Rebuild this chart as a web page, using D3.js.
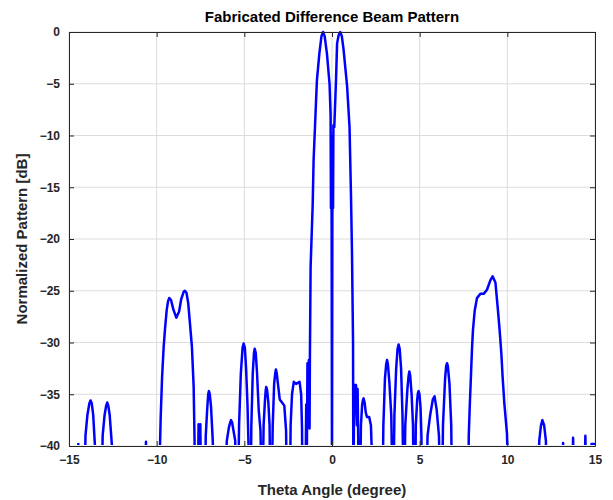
<!DOCTYPE html>
<html>
<head>
<meta charset="utf-8">
<script src="https://cdn.jsdelivr.net/npm/d3@7/dist/d3.min.js"></script>
<style>
  body { margin: 0; background: #fff; }
  text { font-family: "Liberation Sans", Arial, sans-serif; }
</style>
</head>
<body>
<div id="chart"></div>
<script>
const svgWidth = 613
const svgHeight = 500

const margin = { top: 32, right: 18, bottom: 54, left: 69 }
const chartWidth = svgWidth - margin.left - margin.right
const chartHeight = svgHeight - margin.top - margin.bottom

const xTicks = [-15, -10, -5, 0, 5, 10, 15]
const yTicks = [0, -5, -10, -15, -20, -25, -30, -35, -40]

// angle (degree), values below -40 are outside the axes
const theta = [
  -15.0, -14.52, -14.47, -14.42,
  -14.12, -14.06, -13.95, -13.84, -13.77, -13.7, -13.62, -13.52, -13.48,
  -13.14, -13.08, -12.97, -12.88, -12.82, -12.76, -12.68, -12.55, -12.5,
  -10.66, -10.61, -10.55,
  -9.85, -9.81, -9.77, -9.69, -9.6, -9.52, -9.43, -9.35, -9.28, -9.18, -9.05, -8.88, -8.72, -8.6, -8.46, -8.39, -8.3, -8.2, -8.12, -7.99, -7.89, -7.84, -7.8,
  -7.66, -7.61, -7.56, -7.51, -7.46,
  -7.25, -7.2, -7.12, -7.06, -7.02, -6.97, -6.9, -6.8, -6.76,
  -6.1, -6.0, -5.88, -5.8, -5.76, -5.7, -5.62, -5.52, -5.48,
  -5.36, -5.3, -5.2, -5.1, -5.04, -4.97, -4.9, -4.82, -4.76, -4.72,
  -4.64, -4.6, -4.52, -4.45, -4.41, -4.35, -4.28, -4.18, -4.08, -4.0,
  -3.96, -3.9, -3.82, -3.78, -3.75, -3.7, -3.63, -3.56, -3.52,
  -3.44, -3.38, -3.3, -3.24, -3.2, -3.15, -3.07, -2.98, -2.85, -2.72, -2.62, -2.57,
  -2.4, -2.36, -2.28, -2.18, -2.05, -1.95, -1.85, -1.76, -1.71, -1.68,
  -1.52, -1.47, -1.43, -1.4, -1.36, -1.32, -1.28, -1.26,
  -1.22, -1.1, -1.05, -0.97, -0.86, -0.72, -0.6, -0.51, -0.42, -0.29, -0.14,
  -0.08, -0.06, -0.04, -0.02, 0, 0.02, 0.04, 0.06, 0.08,
  0.13, 0.23, 0.29, 0.38, 0.47, 0.56, 0.66, 0.86, 1.0, 1.08, 1.14, 1.18, 1.2, 1.22,
  1.25, 1.29, 1.33, 1.37, 1.42, 1.46, 1.5, 1.53,
  1.6, 1.65, 1.72, 1.76, 1.8, 1.86, 1.93, 2.0, 2.12, 2.22, 2.26, 2.28,
  2.88, 2.93, 3.02, 3.09, 3.14, 3.19, 3.27, 3.38, 3.46,
  3.5, 3.56, 3.66, 3.74, 3.8, 3.86, 3.94, 4.02, 4.08,
  4.12, 4.18, 4.3, 4.37, 4.41, 4.46, 4.54, 4.62, 4.66,
  4.74, 4.78, 4.86, 4.9, 4.94, 4.99, 5.05, 5.1, 5.13,
  5.38, 5.45, 5.6, 5.75, 5.85, 5.97, 6.1, 6.18,
  6.28, 6.33, 6.45, 6.51, 6.56, 6.61, 6.7, 6.8, 6.85,
  7.78, 7.8, 7.86, 7.93, 7.99, 8.04, 8.14, 8.27, 8.46, 8.65, 8.84, 9.03, 9.16, 9.32, 9.45, 9.56, 9.66, 9.73, 9.83, 9.98, 10.07,
  11.78, 11.82, 11.92, 12.0, 12.1, 12.2, 12.24,
  13.14, 13.18, 13.22,
  13.68, 13.75, 13.82,
  14.38, 14.45, 14.52,
  14.75, 14.8, 15.0
]

const patternDb = [
  -45, -45, -39.8, -45,
  -45, -39, -37, -35.9, -35.6, -35.9, -37, -40, -45,
  -45, -39, -37, -36.1, -35.8, -36.1, -37, -40, -45,
  -45, -39.6, -45,
  -45, -40, -37.2, -33.3, -30.4, -28.6, -26.9, -26.0, -25.7, -25.9, -26.8, -27.6, -27.0, -25.8, -25.1, -25.0, -25.2, -26.2, -27.8, -30.4, -34.3, -39.4, -45,
  -45, -37.9, -45, -37.9, -45,
  -45, -39, -36.5, -35.0, -34.7, -35.0, -36.2, -39.5, -45,
  -45, -39.5, -38.2, -37.7, -37.5, -37.7, -38.5, -39.5, -45,
  -45, -38, -33, -30.5, -30.1, -30.5, -32.5, -36, -40, -45,
  -45, -38, -33, -31.0, -30.6, -31.0, -32.8, -36.5, -38.5, -45,
  -45, -38, -35.5, -34.6, -34.3, -34.6, -35.8, -38, -45,
  -45, -38, -34, -33.0, -32.6, -33.0, -34.2, -35.5, -35.8, -36.1, -38.5, -45,
  -45, -38, -35, -33.8, -34, -33.9, -33.8, -35, -38.3, -45,
  -45, -36, -40, -32, -34, -31.7, -38.3, -31.4,
  -22.7, -16.6, -12.4, -9.15, -4.64, -2.06, -0.4, 0, -0.4, -2.06, -5.0,
  -8, -17, -10, -19, -45, -18, -11, -17, -9,
  -9.2, -4.6, -1.1, -0.3, 0, -0.4, -1.7, -5.2, -9.2, -15.5, -21.3, -27.1, -30.0, -45,
  -38, -34.1, -34.2, -34.1, -38, -34.5, -40, -45,
  -45, -38, -36, -35.6, -35.4, -35.8, -36.8, -37.2, -37.2, -38, -40, -45,
  -45, -38, -33.5, -32.1, -31.7, -32.1, -33.8, -37, -45,
  -45, -37, -32.5, -30.6, -30.2, -30.6, -32.5, -37, -45,
  -45, -38, -34.5, -33.2, -32.8, -33.2, -35.0, -38, -45,
  -45, -38, -35.5, -34.9, -34.7, -35.0, -36.3, -39, -45,
  -45, -39, -37, -35.5, -35.2, -36.5, -39, -45,
  -45, -38, -33.5, -32.3, -32.0, -32.3, -34.0, -38, -45,
  -45, -39, -36, -33, -30.4, -28.8, -26.9, -25.7, -25.3, -25.3, -24.9, -24.0, -23.6, -24.2, -26.6, -28.8, -31.1, -33.3, -35.9, -38.8, -45,
  -45, -39.5, -38, -37.5, -38, -39.5, -45,
  -45, -39.7, -45,
  -45, -39.2, -45,
  -45, -39.0, -45,
  -45, -39.8, -39.8
]

const data = theta.map((t, i) => ({ t: t, db: patternDb[i] }))

const svg = d3.select("#chart").append("svg")
    .attr("width", svgWidth)
    .attr("height", svgHeight)

svg.append("rect")
    .attr("width", svgWidth)
    .attr("height", svgHeight)
    .attr("fill", "#ffffff")

const chartG = svg.append("g")
    .attr("transform", `translate(${margin.left}, ${margin.top})`)

const x = d3.scaleLinear()
    .domain([-15, 15])
    .range([0, chartWidth])

const y = d3.scaleLinear()
    .domain([-40, 0])
    .range([chartHeight, 0])

// grid
chartG.append("g")
    .selectAll("line")
    .data(xTicks)
    .enter()
    .append("line")
    .attr("x1", d => x(d))
    .attr("x2", d => x(d))
    .attr("y1", 0)
    .attr("y2", chartHeight)
    .attr("stroke", "#dcdcdc")
    .attr("stroke-width", 1)

chartG.append("g")
    .selectAll("line")
    .data(yTicks)
    .enter()
    .append("line")
    .attr("x1", 0)
    .attr("x2", chartWidth)
    .attr("y1", d => y(d))
    .attr("y2", d => y(d))
    .attr("stroke", "#dcdcdc")
    .attr("stroke-width", 1)

svg.append("clipPath")
    .attr("id", "plotClip")
    .append("rect")
    .attr("x", 0)
    .attr("y", -2)
    .attr("width", chartWidth)
    .attr("height", chartHeight + 1)

const line = d3.line()
    .x(d => x(d.t))
    .y(d => y(d.db))

chartG.append("path")
    .datum(data)
    .attr("clip-path", "url(#plotClip)")
    .attr("d", line)
    .attr("fill", "none")
    .attr("stroke", "#0000ff")
    .attr("stroke-width", 2.5)
    .attr("stroke-linejoin", "round")

// axes, MATLAB style box with inward ticks
const xAxis = d3.axisBottom(x).tickValues(xTicks).tickSizeInner(-5).tickSizeOuter(0).tickPadding(9)
const yAxis = d3.axisLeft(y).tickValues(yTicks).tickSizeInner(-5).tickSizeOuter(0).tickPadding(9)

const xAxisG = chartG.append("g")
    .attr("transform", `translate(0, ${chartHeight})`)
    .call(xAxis)

const yAxisG = chartG.append("g")
    .call(yAxis)

chartG.append("g")
    .call(d3.axisTop(x).tickValues(xTicks).tickSizeInner(-5).tickSizeOuter(0).tickFormat(""))

chartG.append("g")
    .attr("transform", `translate(${chartWidth}, 0)`)
    .call(d3.axisRight(y).tickValues(yTicks).tickSizeInner(-5).tickSizeOuter(0).tickFormat(""))

chartG.selectAll(".domain").attr("stroke", "#262626")
chartG.selectAll(".tick line").attr("stroke", "#262626")
chartG.selectAll(".tick text")
    .attr("font-size", 12)
    .attr("font-weight", "bold")
    .attr("fill", "#262626")
    .style("font-family", "'Liberation Sans', Arial, sans-serif")

svg.append("text")
    .attr("x", margin.left + chartWidth / 2)
    .attr("y", 22)
    .attr("text-anchor", "middle")
    .attr("font-size", 15)
    .attr("font-weight", "bold")
    .attr("fill", "#000")
    .text("Fabricated Difference Beam Pattern")

svg.append("text")
    .attr("x", margin.left + chartWidth / 2)
    .attr("y", 495)
    .attr("text-anchor", "middle")
    .attr("font-size", 15)
    .attr("font-weight", "bold")
    .attr("fill", "#262626")
    .text("Theta Angle (degree)")

svg.append("text")
    .attr("transform", `translate(27, ${margin.top + chartHeight / 2}) rotate(-90)`)
    .attr("text-anchor", "middle")
    .attr("font-size", 15)
    .attr("font-weight", "bold")
    .attr("fill", "#262626")
    .text("Normalized Pattern [dB]")
</script>
</body>
</html>
